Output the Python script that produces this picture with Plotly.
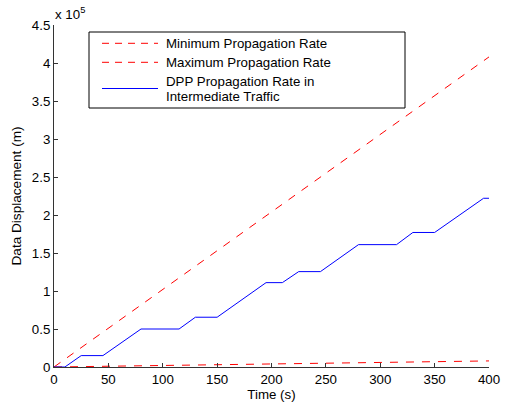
import plotly.graph_objects as go

# ---- data ----
time_line = [0, 400]
min_rate = [0, 8000]
max_rate = [0, 408000]

dpp_time = [0, 10, 25, 45, 80, 115, 130, 150, 195, 210, 225, 245, 280, 315, 330, 350, 395, 400]
dpp_disp = [0, 0, 15000, 15000, 50000, 50000, 65500, 65500, 111000, 111000, 125500, 125500,
            161000, 161000, 177000, 177000, 222000, 222000]

x_ticks = [0, 50, 100, 150, 200, 250, 300, 350, 400]
y_tickvals = [0, 50000, 100000, 150000, 200000, 250000, 300000, 350000, 400000, 450000]
y_ticktext = ["0", "0.5", "1", "1.5", "2", "2.5", "3", "3.5", "4", "4.5"]

legend_labels = ["Minimum Propagation Rate", "Maximum Propagation Rate",
                 "DPP Propagation Rate in", "Intermediate Traffic"]

font = "Liberation Sans, Arial, Helvetica, sans-serif"
FS = 13.3

W, H = 510, 405
L, R, T, B = 54, 21, 25, 38
PW, PH = W - L - R, H - T - B


def px(x):
    return (x - L) / PW


def py(y):
    return (H - B - y) / PH


fig = go.Figure()
fig.add_trace(go.Scatter(x=time_line, y=min_rate, mode="lines", name=legend_labels[0],
                         line=dict(color="#ff0000", width=1, dash="8px,8px")))
fig.add_trace(go.Scatter(x=time_line, y=max_rate, mode="lines", name=legend_labels[1],
                         line=dict(color="#ff0000", width=1, dash="8px,8px")))
fig.add_trace(go.Scatter(x=dpp_time, y=dpp_disp, mode="lines",
                         name=legend_labels[2] + " " + legend_labels[3],
                         line=dict(color="#0000ff", width=1)))

# legend drawn as box + sample lines + labels
shapes = [dict(type="rect", xref="paper", yref="paper",
               x0=px(89), x1=px(405), y0=py(108), y1=py(32),
               line=dict(color="black", width=1), fillcolor="white", layer="above")]
for yy, col, dash in [(43.3, "#ff0000", "7px,6px"), (62.3, "#ff0000", "7px,6px"),
                      (88.5, "#0000ff", "solid")]:
    shapes.append(dict(type="line", xref="paper", yref="paper",
                       x0=px(102), x1=px(158), y0=py(yy), y1=py(yy),
                       line=dict(color=col, width=1, dash=dash), layer="above"))

annotations = []
for lab, yy in zip(legend_labels, [43.3, 62.3, 82.0, 96.7]):
    annotations.append(dict(text=lab, xref="paper", yref="paper", x=px(164), y=py(yy),
                            xanchor="left", yanchor="middle", showarrow=False,
                            font=dict(size=FS)))
annotations.append(dict(text="x 10<sup>5</sup>", xref="paper", yref="paper",
                        x=0, y=1, xanchor="left", yanchor="bottom", showarrow=False,
                        font=dict(size=FS), xshift=-1, yshift=1))

fig.update_layout(
    width=W, height=H,
    margin=dict(l=L, r=R, t=T, b=B),
    paper_bgcolor="white", plot_bgcolor="white",
    font=dict(family=font, size=FS, color="black"),
    showlegend=False,
    xaxis=dict(range=[0, 400], tickvals=x_ticks, ticks="inside", ticklen=4,
               showgrid=False, zeroline=False, showline=True, linecolor="#333333",
               linewidth=1, tickcolor="#333333", automargin=False,
               title=dict(text="Time (s)", font=dict(size=FS), standoff=1)),
    yaxis=dict(range=[0, 450000], tickvals=y_tickvals, ticktext=y_ticktext,
               ticks="inside", ticklen=4,
               showgrid=False, zeroline=False, showline=True, linecolor="#333333",
               linewidth=1, tickcolor="#333333", automargin=False,
               title=dict(text="Data Displacement (m)", font=dict(size=13.6), standoff=7)),
    shapes=shapes,
    annotations=annotations,
)

fig.write_html("out.html", config={"displayModeBar": False},
               post_script="document.body.style.margin='0';")
